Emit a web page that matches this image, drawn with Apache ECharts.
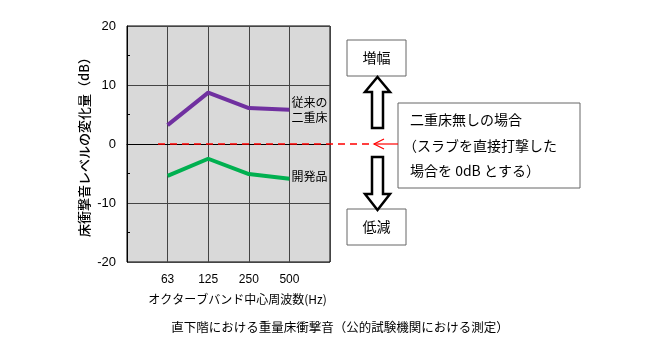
<!DOCTYPE html>
<html>
<head>
<meta charset="UTF-8">
<title>直下階における重量床衝撃音</title>
<script src="https://cdn.jsdelivr.net/npm/echarts@6/dist/echarts.min.js"></script>
<style>
  html, body { margin: 0; padding: 0; background: #fff; }
  #chart { width: 660px; height: 354px; }
</style>
</head>
<body>
<div id="chart"></div>
<script>
// 周波数 (両端は余白用の空カテゴリ)
var bands = ['', '63', '125', '250', '500', ''];
var conventional = [null, 3.2, 8.7, 6.1, 5.8, null];   // 従来の二重床
var developed = [null, -5.4, -2.5, -5.1, -5.9, null];  // 開発品
var yTicks = { min: -20, max: 20, step: 10 };

var JP = '"Noto Sans CJK JP", "Noto Sans", sans-serif';
var NUM = '"Liberation Sans", Arial, sans-serif';

var chart = echarts.init(document.getElementById('chart'));

var option = {
  animation: false,
  textStyle: { fontFamily: JP, color: '#000' },
  grid: { left: 127, right: 330, top: 26, bottom: 92, show: true, backgroundColor: '#d9d9d9', borderColor: '#000', borderWidth: 1 },
  xAxis: {
    type: 'category',
    data: bands,
    boundaryGap: false,
    axisTick: { show: false },
    axisLine: { lineStyle: { color: '#000' } },
    axisLabel: { color: '#000', fontSize: 12, margin: 12, fontFamily: NUM },
    splitLine: { show: true, lineStyle: { color: '#444', width: 1 } },
    name: 'オクターブバンド中心周波数(Hz)',
    nameLocation: 'middle',
    nameGap: 31,
    nameTextStyle: { fontSize: 12, color: '#000', padding: [0, 0, 0, 18] }
  },
  yAxis: {
    type: 'value',
    min: yTicks.min,
    max: yTicks.max,
    interval: yTicks.step,
    axisLine: { show: true, lineStyle: { color: '#000' } },
    axisTick: { show: true, inside: true, length: 0 },
    minorTick: { show: true, splitNumber: 2, length: 3, lineStyle: { color: '#000' } },
    axisLabel: { color: '#000', fontSize: 13, margin: 11, fontFamily: NUM },
    splitLine: { show: true, lineStyle: { color: '#444', width: 1 } },
    name: '床衝撃音レベルの変化量（dB）',
    nameLocation: 'middle',
    nameGap: 36,
    nameTextStyle: { fontSize: 13, color: '#000', fontWeight: 500 }
  },
  series: [
    {
      name: '従来の二重床',
      type: 'line',
      data: conventional,
      symbol: 'none',
      lineStyle: { color: '#7030a0', width: 4 },
      itemStyle: { color: '#7030a0' },
      endLabel: { show: true, formatter: '従来の\n二重床', color: '#000', fontSize: 12, lineHeight: 15, distance: 2, fontFamily: JP },
      z: 3
    },
    {
      name: '開発品',
      type: 'line',
      data: developed,
      symbol: 'none',
      lineStyle: { color: '#00b050', width: 4 },
      itemStyle: { color: '#00b050' },
      endLabel: { show: true, formatter: '開発品', color: '#000', fontSize: 12, distance: 2, offset: [0, -2], fontFamily: JP },
      z: 3
    }
  ]
};
chart.setOption(option);

// 0dB の基準線と注記
var y0 = chart.convertToPixel({ yAxisIndex: 0 }, 0);
var boxStyle = { fill: '#fff', stroke: '#666', lineWidth: 1 };
var arrowStyle = { fill: '#fff', stroke: '#000', lineWidth: 2.5 };

chart.setOption({
  graphic: [
    { type: 'line', shape: { x1: 158, y1: y0, x2: 372, y2: y0 }, style: { stroke: '#ff0000', lineWidth: 1.5, lineDash: [7, 5] }, z: 10 },
    { type: 'line', shape: { x1: 374, y1: y0, x2: 398, y2: y0 }, style: { stroke: '#ff0000', lineWidth: 1.2 }, z: 10 },
    { type: 'polyline', shape: { points: [[384, y0 - 5], [374, y0], [384, y0 + 5]] }, style: { stroke: '#ff0000', lineWidth: 1.2, fill: null }, z: 10 },

    { type: 'rect', shape: { x: 347, y: 40, width: 59, height: 36 }, style: boxStyle },
    { type: 'text', x: 376.5, y: 58, style: { text: '増幅', font: '14px ' + JP, fill: '#000', align: 'center', verticalAlign: 'middle' } },
    { type: 'rect', shape: { x: 347, y: 209, width: 59, height: 36 }, style: boxStyle },
    { type: 'text', x: 376.5, y: 227, style: { text: '低減', font: '14px ' + JP, fill: '#000', align: 'center', verticalAlign: 'middle' } },

    { type: 'polygon', shape: { points: [[377.5, 77], [390, 92], [383, 92], [383, 128], [372, 128], [372, 92], [365, 92]] }, style: arrowStyle },
    { type: 'polygon', shape: { points: [[372, 157], [383, 157], [383, 194], [390, 194], [377.5, 210], [365, 194], [372, 194]] }, style: arrowStyle },

    { type: 'rect', shape: { x: 398, y: 103, width: 182, height: 85 }, style: boxStyle },
    { type: 'text', x: 410, y: 120, style: { text: '二重床無しの場合', font: '14px ' + JP, fill: '#000', verticalAlign: 'middle' } },
    { type: 'text', x: 403, y: 146, style: { text: '（スラブを直接打撃した', font: '14px ' + JP, fill: '#000', verticalAlign: 'middle' } },
    { type: 'text', x: 410, y: 171, style: { text: '場合を 0dB とする）', font: '14px ' + JP, fill: '#000', verticalAlign: 'middle' } },

    { type: 'text', x: 340, y: 327, style: { text: '直下階における重量床衝撃音（公的試験機関における測定）', font: '12.5px ' + JP, fill: '#000', align: 'center', verticalAlign: 'middle' } }
  ]
});
</script>
</body>
</html>
